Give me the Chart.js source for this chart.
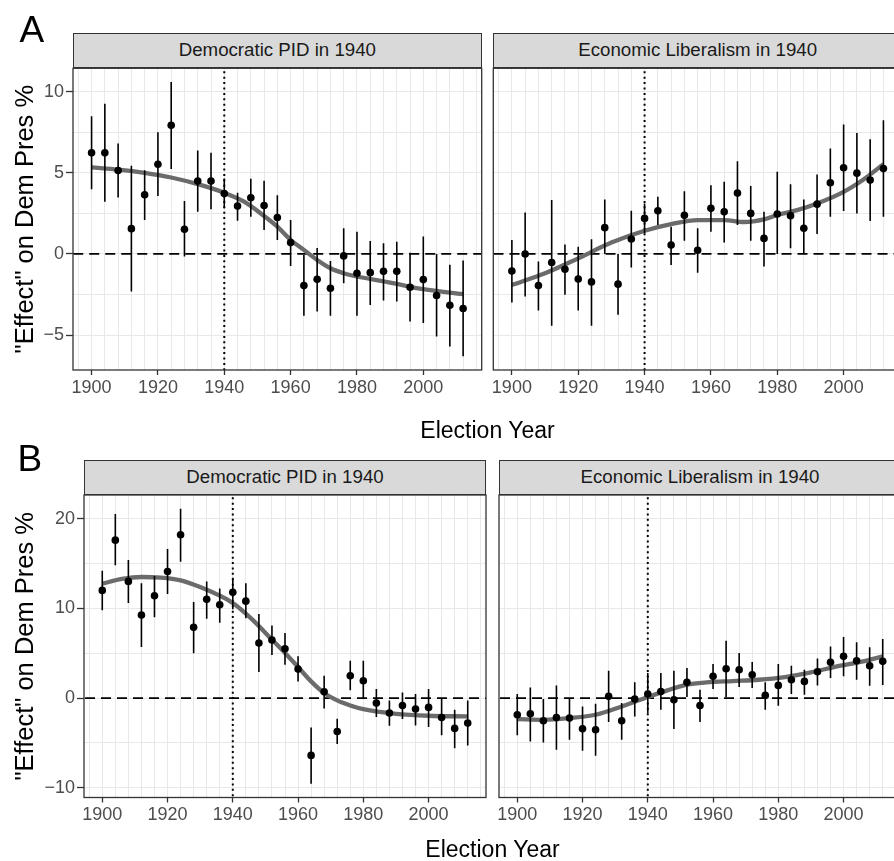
<!DOCTYPE html>
<html><head><meta charset="utf-8">
<script src="https://cdn.jsdelivr.net/npm/chart.js@4.4.1/dist/chart.umd.min.js"></script>
<style>
html,body{margin:0;padding:0;background:#fff;}
#wrap{position:relative;width:894px;height:861px;overflow:hidden;font-family:"Liberation Sans",Arial,Helvetica,sans-serif;}
canvas{position:absolute;}
.strip{position:absolute;box-sizing:border-box;background:#d9d9d9;border:1.3px solid #333;color:#1a1a1a;font-size:18.7px;text-align:center;white-space:nowrap;}
.letter{position:absolute;font-size:37px;line-height:1;color:#000;}
.xt{position:absolute;font-size:23px;line-height:1;color:#000;text-align:center;width:300px;white-space:nowrap;}
</style></head><body><div id="wrap">
<canvas id="cA1" width="490" height="400" style="left:0;top:0"></canvas>
<canvas id="cA2" width="430" height="400" style="left:480px;top:0"></canvas>
<canvas id="cB1" width="495" height="431" style="left:0;top:430px"></canvas>
<canvas id="cB2" width="420" height="431" style="left:490px;top:430px"></canvas>
<div class="letter" style="left:19.5px;top:10.7px">A</div>
<div class="letter" style="left:17.5px;top:440px">B</div>
<div class="strip" style="left:73px;top:33px;width:408.7px;height:35.3px;line-height:32.7px">Democratic PID in 1940</div>
<div class="strip" style="left:493.3px;top:33px;width:408.7px;height:35.3px;line-height:32.7px">Economic Liberalism in 1940</div>
<div class="strip" style="left:84px;top:459.5px;width:402px;height:35.5px;line-height:32.9px">Democratic PID in 1940</div>
<div class="strip" style="left:499px;top:459.5px;width:402px;height:35.5px;line-height:32.9px">Economic Liberalism in 1940</div>
<div class="xt" style="left:337.5px;top:419px">Election Year</div>
<div class="xt" style="left:342.5px;top:837.5px">Election Year</div>
</div>
<script>
// ---------- data ----------
const years = [1900,1904,1908,1912,1916,1920,1924,1928,1932,1936,1940,1944,1948,1952,1956,1960,1964,1968,1972,1976,1980,1984,1988,1992,1996,2000,2004,2008,2012];

// Panel A: Democratic PID in 1940
const pidA    = [6.23,6.23,5.14,1.56,3.65,5.53,7.93,1.52,4.49,4.49,3.73,2.95,3.46,2.99,2.25,0.70,-1.95,-1.56,-2.11,-0.12,-1.19,-1.15,-1.07,-1.07,-2.05,-1.58,-2.56,-3.16,-3.36];
const pidA_lo = [3.98,3.22,3.48,-2.32,2.09,3.57,5.23,-0.16,2.60,2.75,2.81,2.05,2.30,1.48,0.86,-0.74,-3.81,-3.55,-3.81,-1.80,-3.81,-3.14,-2.87,-2.93,-4.16,-4.26,-5.08,-5.70,-6.31];
const pidA_hi = [8.48,9.26,6.80,5.43,5.16,7.50,10.59,3.26,6.37,6.23,4.65,3.77,4.63,4.51,3.61,2.09,-0.06,0.37,-0.43,1.58,1.37,0.80,0.66,0.76,0.08,1.07,0.00,-0.66,-0.41];
const pidA_smoothX = [1900,1908,1916,1924,1932,1940,1946,1952,1956,1960,1964,1968,1972,1976,1980,1990,2000,2012];
const pidA_smoothY = [5.33,5.20,5.00,4.71,4.30,3.77,3.22,2.34,1.68,0.86,0.25,-0.37,-0.88,-1.19,-1.39,-1.76,-2.17,-2.48];

// Panel A: Economic Liberalism in 1940
const econA    = [-1.05,0.00,-1.95,-0.53,-0.94,-1.54,-1.72,1.62,-1.86,0.92,2.19,2.66,0.55,2.38,0.23,2.81,2.60,3.75,2.50,0.96,2.46,2.36,1.58,3.07,4.39,5.31,4.98,4.55,5.27];
const econA_lo = [-2.99,-2.62,-3.48,-4.43,-2.52,-3.48,-4.43,0.00,-3.75,-0.84,1.27,1.78,-0.68,0.82,-1.15,1.37,0.70,1.78,0.82,-0.78,0.00,0.35,0.00,1.23,2.30,2.64,2.50,2.03,2.30];
const econA_hi = [0.86,2.56,-0.47,3.32,0.59,0.45,0.90,3.36,0.00,2.66,3.11,3.52,1.68,3.87,1.58,4.24,4.45,5.72,4.18,2.60,5.06,4.30,3.36,4.90,6.50,7.97,7.46,7.07,8.24];
const econA_smoothX = [1900,1910,1920,1930,1940,1948,1956,1964,1970,1976,1980,1986,1992,2000,2006,2012];
const econA_smoothY = [-1.91,-1.19,-0.27,0.70,1.43,1.84,2.09,2.09,1.97,2.13,2.40,2.70,3.11,3.83,4.59,5.53];

// Panel B: Democratic PID in 1940
const pidB    = [12.0,17.6,13.0,9.26,11.4,14.1,18.2,7.88,11.0,10.4,11.8,10.8,6.13,6.47,5.50,3.23,-6.39,0.71,-3.72,2.49,1.93,-0.56,-1.67,-0.82,-1.23,-1.04,-2.16,-3.38,-2.79];
const pidB_lo = [9.8,14.8,10.6,5.7,9.0,11.6,15.2,5.0,8.85,8.4,9.9,8.9,2.9,4.8,3.7,1.86,-9.55,-1.15,-5.13,0.86,-0.11,-2.12,-3.09,-2.34,-3.05,-3.23,-4.13,-5.58,-5.28];
const pidB_hi = [14.2,20.5,15.4,12.8,13.6,16.6,21.1,10.7,13.0,12.2,13.4,12.8,9.37,8.1,7.25,4.65,-3.27,2.49,-2.30,4.16,4.16,1.0,-0.26,0.63,0.45,1.0,-0.11,-1.30,-0.26];
const pidB_smoothX = [1900,1906,1912,1918,1924,1930,1936,1940,1946,1952,1956,1960,1964,1968,1972,1976,1980,1990,2000,2012];
const pidB_smoothY = [12.75,13.27,13.49,13.42,13.12,12.38,11.41,10.59,8.74,6.51,5.02,3.46,1.86,0.56,-0.26,-0.82,-1.23,-1.75,-1.97,-2.04];

// Panel B: Economic Liberalism in 1940
const econB    = [-1.86,-1.75,-2.53,-2.16,-2.23,-3.42,-3.53,0.19,-2.53,-0.11,0.45,0.74,-0.19,1.75,-0.82,2.42,3.27,3.16,2.60,0.30,1.41,2.04,1.86,2.94,3.98,4.65,4.16,3.61,4.09];
const econB_lo = [-4.13,-4.83,-4.94,-5.76,-4.65,-5.87,-6.43,-2.68,-4.65,-2.04,-1.67,-1.30,-3.46,0.11,-2.68,1.0,0.11,1.23,1.12,-1.30,-0.86,0.45,0.37,1.41,2.23,2.42,2.04,1.38,1.45];
const econB_hi = [0.45,1.19,-0.11,1.41,0.00,-0.93,-0.63,3.05,-0.56,1.75,2.79,2.79,3.05,3.35,0.93,3.79,6.39,5.02,4.01,1.75,3.79,3.61,3.16,4.42,5.76,6.80,6.21,5.65,6.58];
const econB_smoothX = [1900,1908,1916,1924,1932,1940,1946,1952,1958,1966,1974,1982,1990,1998,2006,2012];
const econB_smoothY = [-2.34,-2.42,-2.23,-1.86,-0.93,0.11,0.86,1.49,1.75,1.90,2.04,2.34,2.86,3.53,4.09,4.65];

// ticks
const xTickValues = [1896,1900,1904,1908,1912,1916,1920,1924,1928,1932,1936,1940,1944,1948,1952,1956,1960,1964,1968,1972,1976,1980,1984,1988,1992,1996,2000,2004,2008,2012,2016];
const xTickLabels = [1900,1920,1940,1960,1980,2000];
const yTicksA = [-5,-2.5,0,2.5,5,7.5,10];
const yLabelsA = [-5,0,5,10];
const yTicksB = [-10,-5,0,5,10,15,20];
const yLabelsB = [-10,0,10,20];
const refYear = 1940;
const yTitle = '"Effect" on Dem Pres %';

// ---------- drawing ----------
const FONT = '"Liberation Sans", Arial, Helvetica, sans-serif';
Chart.defaults.font.family = FONT;

const borderPlugin = {
  id: 'panelBorder',
  afterDraw(chart) {
    const {ctx, chartArea: a} = chart;
    ctx.save();
    ctx.strokeStyle = '#333';
    ctx.lineWidth = 1.3;
    ctx.strokeRect(a.left, a.top, a.right - a.left, a.bottom - a.top);
    ctx.restore();
  }
};

function fmt(v) { return String(v).replace('-', '\u2212'); }

function makePanel(id, p) {
  const errData = [];
  years.forEach((yr, i) => {
    errData.push({x: yr, y: p.lo[i]}, {x: yr, y: p.hi[i]}, {x: yr, y: null});
  });
  const datasets = [
    {data: years.map((x, i) => ({x, y: p.vals[i]})), showLine: false,
     pointRadius: 3.8, pointBackgroundColor: '#000', pointBorderWidth: 0},
    {data: errData, showLine: true, spanGaps: false, borderColor: '#000', borderWidth: 1.6, pointRadius: 0},
    {data: p.sx.map((x, i) => ({x, y: p.sy[i]})), showLine: true, borderColor: '#6b6b6b',
     borderWidth: 4.3, pointRadius: 0, cubicInterpolationMode: 'monotone'},
    {data: [{x: 1880, y: 0}, {x: 2030, y: 0}], showLine: true, borderColor: '#000',
     borderWidth: 1.8, borderDash: [10, 6], pointRadius: 0},
    {data: [{x: refYear, y: -100}, {x: refYear, y: 100}], showLine: true, borderColor: '#000',
     borderWidth: 2, borderDash: [2, 3.4], pointRadius: 0}
  ];
  new Chart(document.getElementById(id), {
    type: 'scatter',
    data: {datasets},
    plugins: [borderPlugin],
    options: {
      responsive: false, animation: false, events: [],
      layout: {padding: p.pad, autoPadding: false},
      plugins: {legend: {display: false}, tooltip: {enabled: false}},
      scales: {
        x: {
          type: 'linear', min: 1894.4, max: 2017.6,
          afterBuildTicks: s => { s.ticks = xTickValues.map(v => ({value: v})); },
          afterFit: s => { s.height = 30; },
          border: {display: false},
          grid: {color: '#e8e8e8', lineWidth: 1, drawTicks: true, tickLength: 5, tickWidth: 1.3,
                 tickColor: c => (c.tick && xTickLabels.includes(c.tick.value)) ? '#333' : 'rgba(0,0,0,0)'},
          ticks: {autoSkip: false, maxRotation: 0, minRotation: 0, padding: 2, color: '#4d4d4d',
                  font: {size: 18, family: FONT},
                  callback: v => xTickLabels.includes(v) ? String(v) : ''}
        },
        y: {
          type: 'linear', min: p.ymin, max: p.ymax,
          afterBuildTicks: s => { s.ticks = p.yt.map(v => ({value: v})); },
          afterFit: s => { s.width = p.yw; },
          border: {display: false},
          grid: {color: '#e8e8e8', lineWidth: 1, drawTicks: p.showY, tickLength: 7, tickWidth: 1.3,
                 tickColor: c => (c.tick && p.yl.includes(c.tick.value)) ? '#333' : 'rgba(0,0,0,0)'},
          ticks: {display: p.showY, autoSkip: false, padding: 2, color: '#4d4d4d',
                  font: {size: 18, family: FONT},
                  callback: v => p.yl.includes(v) ? fmt(v) : ''},
          title: {display: p.showY, text: yTitle, color: '#000', font: {size: 25.5, family: FONT},
                  padding: {top: 11, bottom: 0}}
        }
      }
    }
  });
}

makePanel('cA1', {vals: pidA, lo: pidA_lo, hi: pidA_hi, sx: pidA_smoothX, sy: pidA_smoothY,
  ymin: -7.15, ymax: 11.44, yt: yTicksA, yl: yLabelsA, showY: true, yw: 73,
  pad: {left: 0, right: 8.3, top: 68.3, bottom: 0}});
makePanel('cA2', {vals: econA, lo: econA_lo, hi: econA_hi, sx: econA_smoothX, sy: econA_smoothY,
  ymin: -7.15, ymax: 11.44, yt: yTicksA, yl: yLabelsA, showY: false, yw: 0,
  pad: {left: 13.3, right: 8, top: 68.3, bottom: 0}});
makePanel('cB1', {vals: pidB, lo: pidB_lo, hi: pidB_hi, sx: pidB_smoothX, sy: pidB_smoothY,
  ymin: -11.08, ymax: 22.63, yt: yTicksB, yl: yLabelsB, showY: true, yw: 84,
  pad: {left: 0, right: 9, top: 65, bottom: 33.5}});
makePanel('cB2', {vals: econB, lo: econB_lo, hi: econB_hi, sx: econB_smoothX, sy: econB_smoothY,
  ymin: -11.08, ymax: 22.63, yt: yTicksB, yl: yLabelsB, showY: false, yw: 0,
  pad: {left: 9, right: 9, top: 65, bottom: 33.5}});
</script>
</body></html>
